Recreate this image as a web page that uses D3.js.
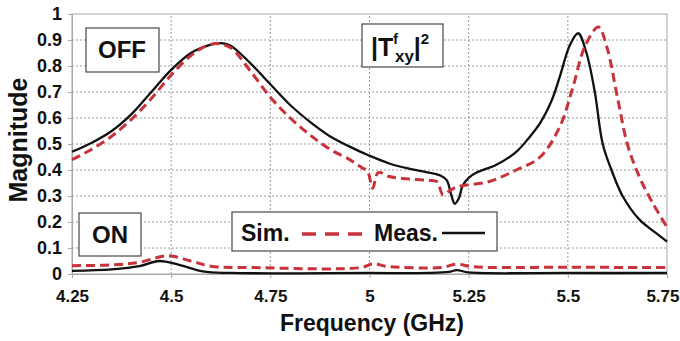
<!DOCTYPE html>
<html>
<head>
<meta charset="utf-8">
<script src="https://cdn.jsdelivr.net/npm/d3@7"></script>
<style>
  body { margin: 0; background: #fff; }
  svg { display: block; }
  .bold { font-family: "Liberation Sans", Arial, sans-serif; font-weight: bold; }
</style>
</head>
<body>
<div id="chart"></div>
<script>
// tick values
const xTicks = [4.25, 4.5, 4.75, 5, 5.25, 5.5, 5.75];
const yTicks = [0, 0.1, 0.2, 0.3, 0.4, 0.5, 0.6, 0.7, 0.8, 0.9, 1];

// OFF state, measured (solid black)
const offMeas = [
  [4.25, 0.47], [4.3, 0.505], [4.35, 0.55], [4.4, 0.615], [4.45, 0.7], [4.5, 0.785],
  [4.55, 0.85], [4.6, 0.882], [4.625, 0.888], [4.65, 0.878], [4.7, 0.81], [4.75, 0.73],
  [4.8, 0.65], [4.85, 0.585], [4.9, 0.53], [4.95, 0.49], [5.0, 0.455], [5.05, 0.425],
  [5.1, 0.405], [5.15, 0.39], [5.18, 0.378], [5.195, 0.36], [5.205, 0.31], [5.215, 0.27],
  [5.225, 0.29], [5.235, 0.34], [5.25, 0.37], [5.27, 0.39], [5.32, 0.42], [5.37, 0.47],
  [5.4, 0.52], [5.43, 0.58], [5.46, 0.67], [5.48, 0.76], [5.505, 0.88], [5.526, 0.926],
  [5.547, 0.85], [5.568, 0.7], [5.588, 0.5], [5.61, 0.4], [5.638, 0.3], [5.68, 0.21],
  [5.72, 0.16], [5.75, 0.125]
];

// OFF state, simulated (dashed red)
const offSim = [
  [4.25, 0.44], [4.3, 0.48], [4.35, 0.53], [4.4, 0.595], [4.45, 0.675], [4.5, 0.765],
  [4.55, 0.84], [4.59, 0.878], [4.615, 0.886], [4.65, 0.87], [4.7, 0.78], [4.75, 0.68],
  [4.8, 0.6], [4.85, 0.535], [4.9, 0.48], [4.95, 0.44], [4.98, 0.41], [4.995, 0.395],
  [5.008, 0.33], [5.022, 0.39], [5.05, 0.375], [5.1, 0.365], [5.15, 0.36], [5.17, 0.355],
  [5.185, 0.305], [5.2, 0.318], [5.22, 0.335], [5.3, 0.355], [5.37, 0.4], [5.43, 0.45],
  [5.48, 0.567], [5.513, 0.72], [5.543, 0.875], [5.577, 0.95], [5.598, 0.875],
  [5.625, 0.68], [5.65, 0.5], [5.68, 0.375], [5.715, 0.27], [5.75, 0.18]
];

// ON state, measured
const onMeas = [
  [4.25, 0.012], [4.35, 0.018], [4.42, 0.03], [4.47, 0.05], [4.52, 0.035], [4.58, 0.01],
  [4.65, 0.004], [5.0, 0.004], [5.15, 0.004], [5.2, 0.008], [5.22, 0.015], [5.25, 0.006],
  [5.5, 0.004], [5.75, 0.004]
];

// ON state, simulated
const onSim = [
  [4.25, 0.032], [4.35, 0.035], [4.42, 0.045], [4.49, 0.07], [4.55, 0.05], [4.6, 0.03],
  [4.7, 0.025], [4.98, 0.025], [5.01, 0.04], [5.04, 0.03], [5.18, 0.025], [5.22, 0.038],
  [5.26, 0.028], [5.5, 0.026], [5.75, 0.025]
];

const width = 680, height = 341;
const margin = { top: 14, right: 13, bottom: 67, left: 72 };
const red = '#c8323a';

const svg = d3.select('#chart').append('svg')
  .attr('width', width)
  .attr('height', height);

const x = d3.scaleLinear().domain([4.25, 5.75]).range([margin.left, width - margin.right]);
const y = d3.scaleLinear().domain([0, 1]).range([height - margin.bottom, margin.top]);

// grid
svg.append('g')
  .selectAll('line')
  .data(xTicks.slice(1, -1))
  .join('line')
  .attr('x1', d => x(d)).attr('x2', d => x(d))
  .attr('y1', y(0)).attr('y2', y(1))
  .attr('stroke', '#9a9a9a')
  .attr('stroke-dasharray', '2,2');

svg.append('g')
  .selectAll('line')
  .data(yTicks.slice(1, -1))
  .join('line')
  .attr('x1', x(4.25)).attr('x2', x(5.75))
  .attr('y1', d => y(d)).attr('y2', d => y(d))
  .attr('stroke', '#9a9a9a')
  .attr('stroke-dasharray', '2,2');

// frame
svg.append('rect')
  .attr('x', x(4.25)).attr('y', y(1))
  .attr('width', x(5.75) - x(4.25)).attr('height', y(0) - y(1))
  .attr('fill', 'none')
  .attr('stroke', '#a8a8a8');

// axes
const xAxis = svg.append('g')
  .attr('transform', `translate(0,${y(0)})`)
  .call(d3.axisBottom(x).tickValues(xTicks).tickFormat(d3.format('')).tickSize(4).tickPadding(12));
const yAxis = svg.append('g')
  .attr('transform', `translate(${x(4.25)},0)`)
  .call(d3.axisLeft(y).tickValues(yTicks).tickFormat(d3.format('')).tickSize(4).tickPadding(6));

[xAxis, yAxis].forEach(a => {
  a.select('.domain').attr('stroke', '#a8a8a8');
  a.selectAll('.tick line').attr('stroke', '#a8a8a8');
  a.selectAll('.tick text')
    .attr('class', 'bold')
    .attr('fill', '#111');
});
xAxis.selectAll('.tick text').attr('font-size', 17);
yAxis.selectAll('.tick text').attr('font-size', 18);
// last x label sits at the window edge
xAxis.selectAll('.tick text').filter(d => d === 5.75)
  .attr('text-anchor', 'end').attr('x', 12);

// axis titles
svg.append('text')
  .attr('class', 'bold')
  .attr('x', 372).attr('y', 331)
  .attr('text-anchor', 'middle')
  .attr('font-size', 23)
  .attr('fill', '#111')
  .text('Frequency (GHz)');

svg.append('text')
  .attr('class', 'bold')
  .attr('transform', 'translate(27,140) rotate(-90)')
  .attr('text-anchor', 'middle')
  .attr('font-size', 25)
  .attr('fill', '#111')
  .text('Magnitude');

// curves
const line = d3.line()
  .x(d => x(d[0]))
  .y(d => y(d[1]))
  .curve(d3.curveCatmullRom.alpha(0.5));

const series = [
  { data: onMeas, color: '#111', dash: null, w: 2.3 },
  { data: offMeas, color: '#111', dash: null, w: 2.3 },
  { data: onSim, color: red, dash: '9,5', w: 3 },
  { data: offSim, color: red, dash: '9,5', w: 3 }
];

svg.append('g')
  .selectAll('path')
  .data(series)
  .join('path')
  .attr('d', d => line(d.data))
  .attr('fill', 'none')
  .attr('stroke', d => d.color)
  .attr('stroke-width', d => d.w)
  .attr('stroke-dasharray', d => d.dash);

// annotation boxes
const box = (x0, y0, w, h) => svg.append('rect')
  .attr('x', x0).attr('y', y0)
  .attr('width', w).attr('height', h)
  .attr('fill', '#fff')
  .attr('stroke', '#555')
  .attr('stroke-width', 1.3);

box(86, 28, 73, 44);
svg.append('text').attr('class', 'bold')
  .attr('x', 122).attr('y', 58).attr('text-anchor', 'middle')
  .attr('font-size', 24).attr('fill', '#111').text('OFF');

box(79, 213, 62, 43);
svg.append('text').attr('class', 'bold')
  .attr('x', 110).attr('y', 243).attr('text-anchor', 'middle')
  .attr('font-size', 24).attr('fill', '#111').text('ON');

box(362, 24, 81, 43);
const tLabel = svg.append('text').attr('class', 'bold')
  .attr('x', 371).attr('y', 56)
  .attr('font-size', 25).attr('fill', '#111');
tLabel.append('tspan').text('|T');
tLabel.append('tspan').attr('font-size', 14).attr('dy', -12).text('f');
tLabel.append('tspan').attr('font-size', 17).attr('dy', 18).attr('dx', -3).text('xy');
tLabel.append('tspan').attr('dy', -6).text('|');
tLabel.append('tspan').attr('font-size', 15).attr('dy', -12).text('2');

// legend
box(232, 212, 265, 39);
svg.append('text').attr('class', 'bold')
  .attr('x', 241).attr('y', 241)
  .attr('font-size', 23).attr('fill', '#111').text('Sim.');
svg.append('line')
  .attr('x1', 302).attr('x2', 364)
  .attr('y1', 234).attr('y2', 234)
  .attr('stroke', red).attr('stroke-width', 3.5)
  .attr('stroke-dasharray', '14,9');
svg.append('text').attr('class', 'bold')
  .attr('x', 374).attr('y', 241)
  .attr('font-size', 23).attr('fill', '#111').text('Meas.');
svg.append('line')
  .attr('x1', 442).attr('x2', 485)
  .attr('y1', 233).attr('y2', 233)
  .attr('stroke', '#111').attr('stroke-width', 2.5);
</script>
</body>
</html>
